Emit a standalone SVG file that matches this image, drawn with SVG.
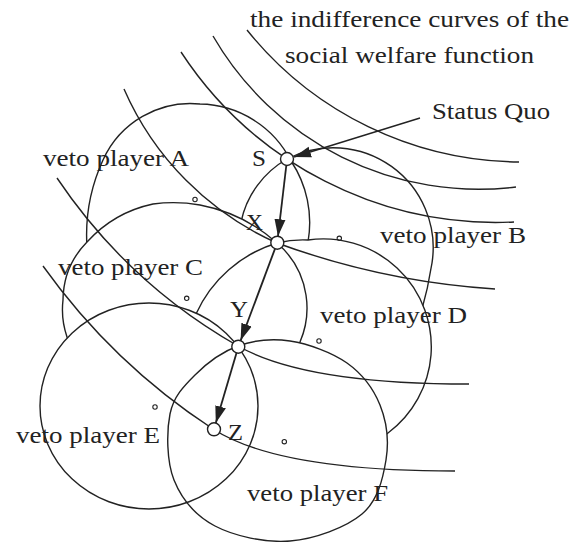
<svg xmlns="http://www.w3.org/2000/svg" width="584" height="542" viewBox="0 0 584 542">
<style>
.ln{fill:none;stroke:#222;stroke-width:1.4}
.dot{fill:#fff;stroke:#222;stroke-width:1.1}
.pt{fill:#fff;stroke:#222;stroke-width:1.4}
.t{font-family:'Liberation Serif','Times New Roman',serif;font-size:23.5px;fill:#222}
.ar{fill:none;stroke:#222;stroke-width:1.8}
</style>
<defs>
<path id="pA" d="M87,247 A180,180 0 0 1 103,160 A96,96 0 0 1 200,104 A104,104 0 0 1 291,161 A111,111 0 0 1 308,242 A111,111 0 0 1 197,326 A111,111 0 0 1 87,247 Z"/>
<path id="pB" d="M241,222 A95,95 0 0 1 287,159 A100,100 0 0 1 432,263 A400,400 0 0 1 421,313 A100,100 0 0 1 334,346 A100,100 0 0 1 240,260 A100,100 0 0 1 241,222 Z"/>
<path id="pC" d="M63,300 A84,84 0 0 1 87,242 A124,124 0 0 1 153,204 A150,150 0 0 1 200,205 A160,160 0 0 1 277,243 A86,86 0 0 1 306,295 A86,86 0 0 1 300,342 A110,110 0 0 1 180,415 A110,110 0 0 1 67,337 A84,84 0 0 1 63,300 Z"/>
<path id="pD" d="M196,314 A130,130 0 0 1 277,243 A108,108 0 0 1 308,240 A108,108 0 0 1 431,355 A108,108 0 0 1 388,433 A110,110 0 0 1 290,455 A110,110 0 0 1 197,330 Z"/>
<ellipse id="pE" cx="149" cy="406" rx="109" ry="103"/>
<path id="pF" d="M238,346 C253.8,340.3 271.8,338.2 290,341 C308.2,343.8 332,352.3 347,363 C362,373.7 373.5,388.8 380,405 C386.5,421.2 389,441.8 386,460 C383,478.2 378,500.5 362,514 C346,527.5 314.5,539 290,541 C265.5,543 234.3,536.2 215,526 C195.7,515.8 181.5,498.7 174,480 C166.5,461.3 166.5,431.5 170,414 C173.5,396.5 183.7,386.3 195,375 C206.3,363.7 222.2,351.7 238,346 Z"/>
<marker id="ah" markerUnits="userSpaceOnUse" markerWidth="18" markerHeight="12" refX="17" refY="6" orient="auto" viewBox="0 0 18 12"><path d="M0,0.5 L17,6 L0,11.5 Z" fill="#222"/></marker>
<mask id="mAB" maskUnits="userSpaceOnUse" x="0" y="0" width="584" height="542"><rect width="584" height="542" fill="#fff"/><use href="#pC" fill="#000"/><use href="#pD" fill="#000"/><use href="#pE" fill="#000"/><use href="#pF" fill="#000"/></mask>
<mask id="mCD" maskUnits="userSpaceOnUse" x="0" y="0" width="584" height="542"><rect width="584" height="542" fill="#fff"/><use href="#pE" fill="#000"/><use href="#pF" fill="#000"/></mask>
</defs>
<rect width="584" height="542" fill="#fff"/>

<g id="veto-player-A"><use href="#pA" class="ln" mask="url(#mAB)"/><circle class="dot" cx="195" cy="199.5" r="2.2"/><text class="t" x="43" y="166" textLength="146" lengthAdjust="spacingAndGlyphs">veto player A</text></g>
<g id="veto-player-B"><use href="#pB" class="ln" mask="url(#mAB)"/><circle class="dot" cx="339.3" cy="238.3" r="2.2"/><text class="t" x="380" y="243" textLength="146" lengthAdjust="spacingAndGlyphs">veto player B</text></g>
<g id="veto-player-C"><use href="#pC" class="ln" mask="url(#mCD)"/><circle class="dot" cx="186.7" cy="298.3" r="2.2"/><text class="t" x="58" y="275" textLength="145" lengthAdjust="spacingAndGlyphs">veto player C</text></g>
<g id="veto-player-D"><use href="#pD" class="ln" mask="url(#mCD)"/><circle class="dot" cx="319" cy="341" r="2.2"/><text class="t" x="320" y="322.5" textLength="147" lengthAdjust="spacingAndGlyphs">veto player D</text></g>
<g id="veto-player-E"><use href="#pE" class="ln"/><circle class="dot" cx="155" cy="407" r="2.2"/><text class="t" x="16" y="443" textLength="144" lengthAdjust="spacingAndGlyphs">veto player E</text></g>
<g id="veto-player-F"><use href="#pF" class="ln"/><circle class="dot" cx="284.3" cy="441.7" r="2.2"/><text class="t" x="247" y="500.5" textLength="141" lengthAdjust="spacingAndGlyphs">veto player F</text></g>

<g id="social-welfare-curves" class="ln">
<path d="M247,30 A353,353 0 0 0 519,162"/>
<path d="M213,36 A307,307 0 0 0 516,187"/>
<path d="M181,52 A377,377 0 0 0 514,222"/>
<path d="M124,89 A300,300 0 0 0 277,243 A780,780 0 0 0 495,289"/>
<path d="M57,178 A540,540 0 0 0 238,346 Q305,384 469,384"/>
<path d="M43,266 A636,636 0 0 0 213,429 Q278,471 455,471"/>
</g>
<g id="curves-label"><text class="t" x="250" y="27" textLength="319" lengthAdjust="spacingAndGlyphs">the indifference curves of the</text><text class="t" x="285" y="63" textLength="249" lengthAdjust="spacingAndGlyphs">social welfare function</text></g>

<g id="connectors">
<line class="ln" x1="420" y1="118" x2="294" y2="157" marker-end="url(#ah)"/>
<line class="ar" x1="286.3" y1="165.5" x2="278" y2="236.2" marker-end="url(#ah)"/>
<line class="ar" x1="275" y1="248.8" x2="240.6" y2="340.6" marker-end="url(#ah)"/>
<line class="ar" x1="236.5" y1="352.9" x2="215.8" y2="423.1" marker-end="url(#ah)"/>
</g>

<g id="status-quo-label"><text class="t" x="432" y="119" textLength="118" lengthAdjust="spacingAndGlyphs">Status Quo</text></g>
<g id="point-S"><circle class="pt" cx="287" cy="159" r="6.5"/><text class="t" x="252" y="166" textLength="14" lengthAdjust="spacingAndGlyphs">S</text></g>
<g id="point-X"><circle class="pt" cx="277.3" cy="242.7" r="6.5"/><text class="t" x="246" y="230" textLength="17" lengthAdjust="spacingAndGlyphs">X</text></g>
<g id="point-Y"><circle class="pt" cx="238.3" cy="346.7" r="6.5"/><text class="t" x="230" y="317" textLength="18" lengthAdjust="spacingAndGlyphs">Y</text></g>
<g id="point-Z"><circle class="pt" cx="214" cy="429.3" r="6.5"/><text class="t" x="228" y="440" textLength="15" lengthAdjust="spacingAndGlyphs">Z</text></g>
</svg>
